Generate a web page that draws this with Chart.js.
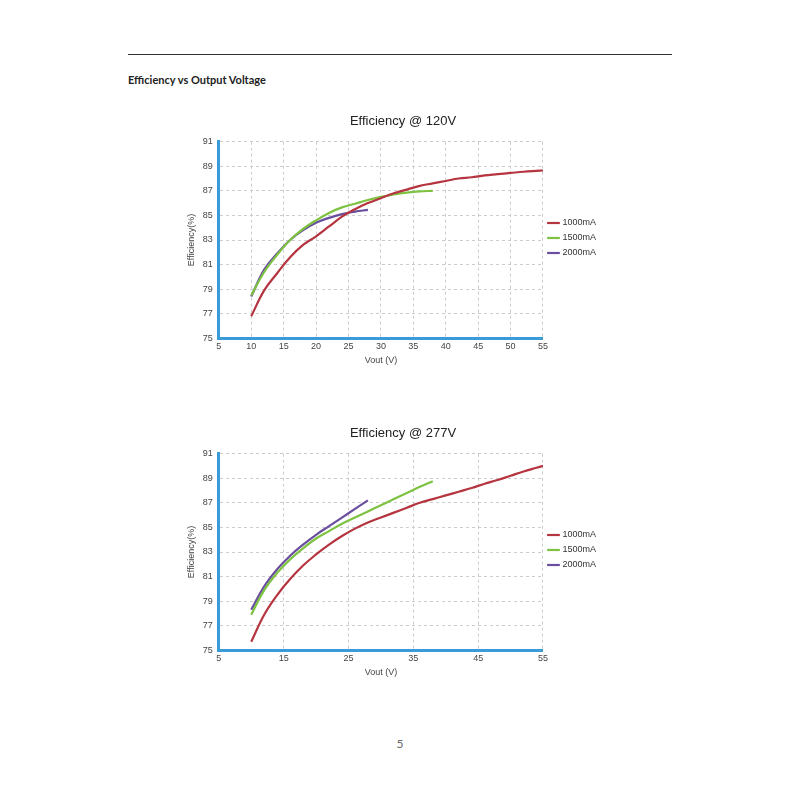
<!DOCTYPE html>
<html>
<head>
<meta charset="utf-8">
<script src="https://cdn.jsdelivr.net/npm/chart.js@4"></script>
<style>
  body { margin: 0; width: 800px; height: 800px; background: #fff; position: relative; font-family: Lato, "Open Sans", sans-serif; }
  .rule { position: absolute; left: 128px; top: 54px; width: 544px; height: 1px; background: #333; }
  h2 { position: absolute; left: 128px; top: 73px; margin: 0; font-size: 11px; font-weight: bold; color: #222; }
  .box { position: absolute; left: 180px; width: 440px; height: 256px; }
  .page { position: absolute; top: 736px; width: 800px; text-align: center; font-size: 12px; color: #666; }
</style>
</head>
<body>
<div class="rule"></div>
<h2>Efficiency vs Output Voltage</h2>
<div class="box" style="top:110px"><canvas id="c120"></canvas></div>
<div class="box" style="top:422px"><canvas id="c277"></canvas></div>
<div class="page">5</div>
<script>
// Efficiency @ 120V
const x1000 = [10,12,14,16,18,20,22,24,26,28,30,32,34,36,38,40,42,44,46,48,50,52,54,55];
const x1500 = [10,12,14,16,18,20,22,24,26,28,30,32,34,36,38];
const x2000 = [10,12,14,16,18,20,22,24,26,28];
const eff120_1000 = [76.8,78.9,80.3,81.6,82.6,83.3,84.1,84.9,85.5,86.0,86.4,86.8,87.1,87.4,87.6,87.8,88.0,88.1,88.25,88.35,88.45,88.55,88.62,88.65];
const eff120_1500 = [78.5,80.4,81.8,83.0,83.9,84.6,85.2,85.65,85.95,86.25,86.5,86.7,86.85,86.95,87.0];
const eff120_2000 = [78.4,80.6,81.9,83.0,83.8,84.4,84.8,85.1,85.3,85.45];
// Efficiency @ 277V
const eff277_1000 = [75.7,77.9,79.5,80.8,81.9,82.8,83.6,84.3,84.9,85.4,85.8,86.2,86.6,87.0,87.3,87.6,87.9,88.2,88.55,88.85,89.2,89.55,89.85,90.0];
const eff277_1500 = [77.9,79.9,81.3,82.4,83.3,84.1,84.7,85.3,85.8,86.3,86.8,87.3,87.8,88.3,88.75];
const eff277_2000 = [78.3,80.2,81.6,82.7,83.6,84.4,85.1,85.8,86.5,87.2];
const seriesLabels = ['1000mA', '1500mA', '2000mA'];
const colors = ['#b5343f', '#7ec242', '#6a4f9e'];

const zip = (xs, ys) => xs.map((x, i) => ({ x: x, y: ys[i] }));
const font9 = { family: 'Liberation Sans', size: 9 };

function makeChart(id, title, ys, xStep) {
    const xsList = [x1000, x1500, x2000];
    new Chart(document.getElementById(id), {
        type: 'line',
        data: {
            datasets: ys.map((d, i) => ({
                label: seriesLabels[i],
                data: zip(xsList[i], d),
                borderColor: colors[i],
                backgroundColor: colors[i],
                borderWidth: 2.2,
                pointRadius: 0,
                tension: 0.4
            }))
        },
        options: {
            responsive: true,
            maintainAspectRatio: false,
            animation: false,
            layout: { padding: { left: 6, right: 0 } },
            plugins: {
                title: { display: true, text: title, color: '#222', font: { family: 'Liberation Sans', size: 13, weight: 'normal' }, padding: { top: 4, bottom: 12 } },
                legend: {
                    position: 'right',
                    labels: { usePointStyle: true, pointStyle: 'line', boxWidth: 20, color: '#333', font: font9, padding: 6 }
                }
            },
            scales: {
                x: {
                    type: 'linear', min: 5, max: 55,
                    ticks: { stepSize: xStep, color: '#444', font: font9 },
                    grid: { color: '#ccc', tickLength: 0 },
                    border: { color: '#3b9bd8', width: 3, dash: [3, 3] },
                    title: { display: true, text: 'Vout (V)', color: '#444', font: font9, padding: 0 }
                },
                y: {
                    min: 75, max: 91,
                    ticks: { stepSize: 2, color: '#444', font: font9, padding: 6 },
                    grid: { color: '#ccc', tickLength: 0 },
                    border: { color: '#3b9bd8', width: 3, dash: [3, 3] },
                    title: { display: true, text: 'Efficiency(%)', color: '#444', font: font9, padding: 0 }
                }
            }
        },
        plugins: [{
            // legend spacing to the right of the plot
            id: 'legendGap',
            beforeInit(chart) {
                const orig = chart.legend && chart.legend.fit;
            }
        }]
    });
}

Chart.register({
    id: 'legendMargin',
    beforeInit(chart) {
        const fit = chart.legend.fit;
        chart.legend.fit = function () { fit.bind(chart.legend)(); this.width += 14; };
    }
});

makeChart('c120', 'Efficiency @ 120V', [eff120_1000, eff120_1500, eff120_2000], 5);
makeChart('c277', 'Efficiency @ 277V', [eff277_1000, eff277_1500, eff277_2000], 10);
</script>
</body>
</html>
